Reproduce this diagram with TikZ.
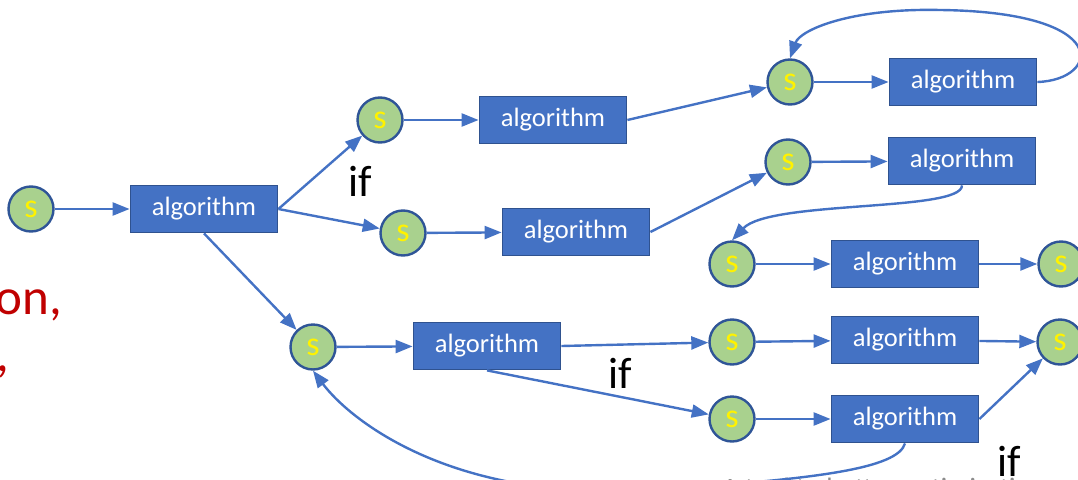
\documentclass[tikz,border=0pt]{standalone}
\usepackage{fontspec}
\setmainfont{Carlito}
\usetikzlibrary{arrows.meta}
\definecolor{boxblue}{HTML}{4472C4}
\definecolor{boxedge}{HTML}{2F528F}
\definecolor{sgreen}{HTML}{A9D18E}
\definecolor{sedge}{HTML}{2F5597}
\definecolor{darkred}{HTML}{C00000}
\definecolor{greytext}{HTML}{8C8C8C}
\tikzset{
  snode/.style={circle, draw=sedge, line width=2.4pt, fill=sgreen, minimum size=45pt, inner sep=0pt,
    text=yellow, font=\fontsize{34}{34}\selectfont},
  algbox/.style={rectangle, draw=boxedge, line width=1.8pt, fill=boxblue, minimum width=147pt, minimum height=47pt,
    inner sep=0pt, text=white, font=\fontsize{26.5}{26.5}\selectfont},
  flow/.style={draw=boxblue, line width=2.4pt, -{Triangle[length=17pt,width=13pt]}},
  iflabel/.style={font=\fontsize{44}{44}\selectfont, text=black, inner sep=0pt},
}
\begin{document}
\begin{tikzpicture}[x=1pt,y=-1pt]
\useasboundingbox (0,0) rectangle (1078,479);
\clip (0,0) rectangle (1078,479);

% side texts (cut off)
\node[anchor=base east, text=darkred, font=\fontsize{51}{51}\selectfont, inner sep=0pt] (red1) at (62,314) {on,};
\node[anchor=base east, text=darkred, font=\fontsize{51}{51}\selectfont, inner sep=0pt] (red2) at (9,371) {,};
\node[anchor=base west, text=greytext, font=\fontsize{28}{28}\selectfont, inner sep=0pt] (grey) at (722,497) {A tool to better optimization};

% nodes
\node[snode] (S0) at (31,209) {s};
\node[algbox] (A0) at (204,209) {algorithm};
\node[snode] (S1) at (380,120) {s};
\node[algbox] (A1) at (553,120) {algorithm};
\node[snode] (S2) at (403,233) {s};
\node[algbox] (A2) at (576,232) {algorithm};
\node[snode] (S3) at (790,82) {s};
\node[algbox] (A3) at (963,82) {algorithm};
\node[snode] (S4) at (788,162) {s};
\node[algbox] (A4) at (962,161) {algorithm};
\node[snode] (S5) at (732,264) {s};
\node[algbox] (A5) at (905,264) {algorithm};
\node[snode] (S6) at (1061,264) {s};
\node[snode] (S7) at (313,347) {s};
\node[algbox] (A7) at (487,346) {algorithm};
\node[snode] (S8) at (732,342) {s};
\node[algbox] (A8) at (905,340) {algorithm};
\node[snode] (S10) at (1060,342) {s};
\node[snode] (S9) at (732,419) {s};
\node[algbox] (A9) at (905,419) {algorithm};

% if labels
\node[iflabel] (if1) at (360,181) {if};
\node[iflabel] (if2) at (620,373) {if};
\node[iflabel] (if3) at (1009,461) {if};

% connectors
\draw[flow] (S0) -- (A0);
\draw[flow] (A0.east) -- (S1);
\draw[flow] (A0.east) -- (S2);
\draw[flow] (A0.south) -- (S7);
\draw[flow] (S1) -- (A1);
\draw[flow] (A1.east) -- (S3);
\draw[flow] (S2) -- (A2);
\draw[flow] (A2.east) -- (S4);
\draw[flow] (S3) -- (A3);
\draw[flow] (A3.east) .. controls (1100,80) and (1115,12) .. (940,10) .. controls (850,8) and (800,30) .. (S3.north);
\draw[flow] (S4) -- (A4);
\draw[flow] (A4.south) .. controls (962,212) and (770,200) .. (S5.north);
\draw[flow] (S5) -- (A5);
\draw[flow] (A5) -- (S6);
\draw[flow] (S7) -- (A7);
\draw[flow] (A7.east) -- (S8);
\draw[flow] (A7.south) -- (S9);
\draw[flow] (S8) -- (A8);
\draw[flow] (A8) -- (S10);
\draw[flow] (S9) -- (A9);
\draw[flow] (A9.east) -- (S10);
\draw[flow] (A9.south) .. controls (898,468) and (820,480) .. (640,490) .. controls (450,500) and (350,420) .. (S7.south);
\end{tikzpicture}
\end{document}
